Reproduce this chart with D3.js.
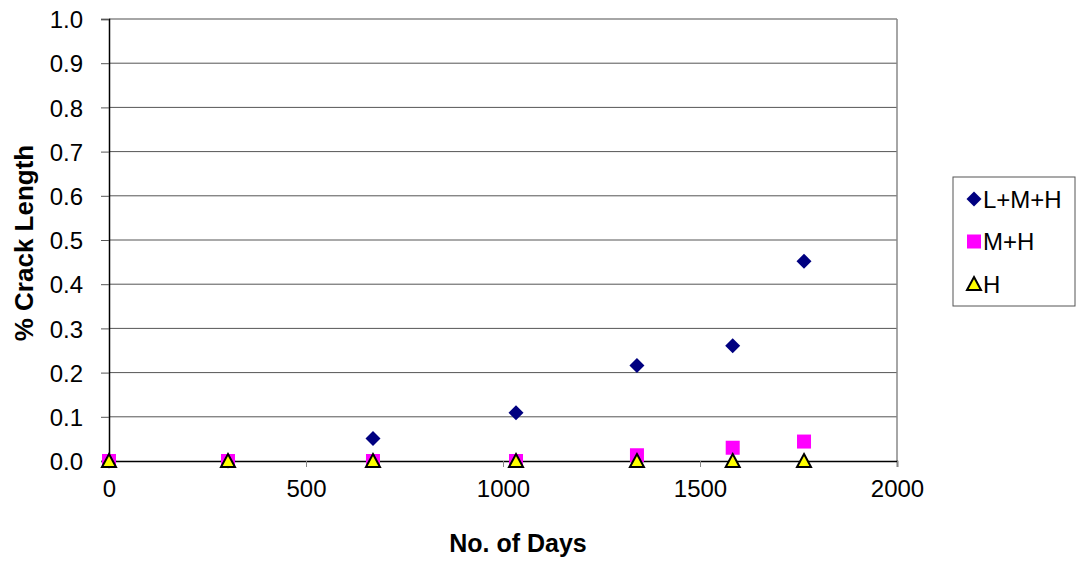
<!DOCTYPE html>
<html><head><meta charset="utf-8">
<script src="https://cdn.jsdelivr.net/npm/d3@7"></script>
<style>html,body{margin:0;padding:0;background:#fff;}svg{display:block;font-family:"Liberation Sans",Arial,sans-serif;}</style>
</head><body><svg id="c" width="1076" height="562"></svg>
<script>
const days = [0, 302, 670, 1033, 1340, 1583, 1764];
const seriesNames = ["L+M+H", "M+H", "H"];
const lmh = [0, 0, 0.051, 0.109, 0.216, 0.261, 0.452];
const mh  = [0, 0, 0, 0, 0.013, 0.030, 0.044];
const h   = [0, 0, 0, 0, 0, 0, 0];
const xTicks = [0, 500, 1000, 1500, 2000];
const yTicks = [0, 0.1, 0.2, 0.3, 0.4, 0.5, 0.6, 0.7, 0.8, 0.9, 1.0];

const FONT = "Liberation Sans, Arial, sans-serif";
const svg = d3.select("#c");
const L = 109, R = 897, T = 19, B = 461;
const x = d3.scaleLinear().domain([0, 2000]).range([L, R]);
const y = d3.scaleLinear().domain([0, 1]).range([B, T]);

// gridlines
svg.append("g").selectAll("line").data(yTicks.filter(d => d > 0 && d < 1)).join("line")
  .attr("x1", L).attr("x2", R).attr("y1", d => y(d)).attr("y2", d => y(d))
  .attr("stroke", "#555").attr("stroke-width", 1);
// plot border top/right
svg.append("line").attr("x1", L).attr("x2", R).attr("y1", y(1)).attr("y2", y(1)).attr("stroke", "#888").attr("stroke-width", 1.5);
svg.append("line").attr("x1", R).attr("x2", R).attr("y1", T).attr("y2", B).attr("stroke", "#888").attr("stroke-width", 1.5);

// y axis
const ya = svg.append("g").attr("transform", `translate(${L},0)`)
  .call(d3.axisLeft(y).tickValues(yTicks).tickFormat(d3.format(".1f")).tickSize(8).tickPadding(18));
ya.select(".domain").attr("stroke", "#000").attr("stroke-width", 1.5);
ya.selectAll(".tick line").attr("stroke", "#555");
ya.selectAll("text").attr("font-size", 24).attr("fill", "#000").attr("font-family", FONT).attr("dy", "0.36em");

// x axis
const xa = svg.append("g").attr("transform", `translate(0,${B})`)
  .call(d3.axisBottom(x).tickValues(xTicks).tickFormat(d3.format("d")).tickSize(6).tickPadding(13));
xa.select(".domain").attr("stroke", "#000").attr("stroke-width", 1.5);
xa.selectAll(".tick line").attr("stroke", "#888");
xa.selectAll("text").attr("font-size", 24).attr("fill", "#000").attr("font-family", FONT);

// titles
svg.append("text").attr("x", 518).attr("y", 552).attr("text-anchor", "middle")
  .attr("font-size", 25).attr("font-weight", "bold").attr("font-family", FONT).text("No. of Days");
svg.append("text").attr("transform", `translate(33,243) rotate(-90)`).attr("text-anchor", "middle")
  .attr("font-size", 26).attr("font-weight", "bold").attr("font-family", FONT).text("% Crack Length");

function drawMarker(g, type) {
  if (type === 0) {
    g.append("path").attr("d", "M0,-7.5L7.5,0L0,7.5L-7.5,0Z").attr("fill", "#000080");
  } else if (type === 1) {
    g.append("rect").attr("x", -7).attr("y", -7).attr("width", 14).attr("height", 14).attr("fill", "#ff00ff");
  } else {
    g.append("path").attr("d", "M0,-7L7,6L-7,6Z").attr("fill", "#ffff00").attr("stroke", "#000").attr("stroke-width", 2).attr("stroke-linejoin", "miter");
  }
}
const series = [lmh, mh, h];
series.forEach((vals, si) => {
  const g = svg.append("g");
  days.forEach((d, i) => {
    const m = g.append("g").attr("transform", `translate(${x(d)},${y(vals[i])})`);
    drawMarker(m, si);
  });
});

// legend
const lg = svg.append("g");
lg.append("rect").attr("x", 953).attr("y", 177).attr("width", 122).attr("height", 129)
  .attr("fill", "#fff").attr("stroke", "#555").attr("stroke-width", 1);
seriesNames.forEach((n, i) => {
  const cy = 199 + i * 42.5;
  const m = lg.append("g").attr("transform", `translate(974,${cy})`);
  drawMarker(m, i);
  lg.append("text").attr("x", 983).attr("y", cy + 8.5).attr("font-size", 24).attr("font-family", FONT).text(n);
});
</script></body></html>
